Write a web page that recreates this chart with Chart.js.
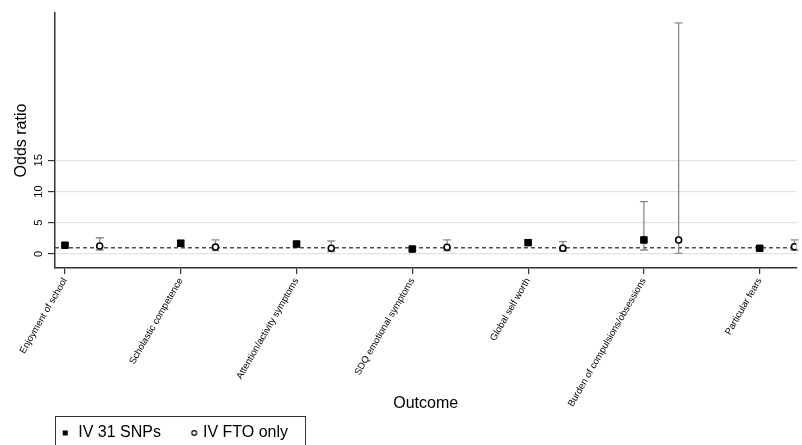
<!DOCTYPE html>
<html>
<head>
<meta charset="utf-8">
<script src="https://cdn.jsdelivr.net/npm/chart.js@4.4.0/dist/chart.umd.min.js"></script>
<style>
html,body{margin:0;padding:0;background:#fff;}
#wrap{width:802px;height:445px;position:relative;}
</style>
</head>
<body>
<div id="wrap"><canvas id="c"></canvas></div>
<script>
// ---- data ----
const categories = [
  'Enjoyment of school',
  'Scholastic competence',
  'Attention/activity symptoms',
  'SDQ emotional symptoms',
  'Global self worth',
  'Burden of compulsions/obsessions',
  'Particular fears'
];
const seriesNames = ['IV 31 SNPs', 'IV FTO only'];

const snpOR    = [1.40, 1.71, 1.60, 0.80, 1.82, 2.25, 0.91];
const snpLower = [1.15, 1.30, 1.25, 0.55, 1.45, 0.64, 0.68];
const snpUpper = [1.70, 2.20, 1.98, 1.10, 2.30, 8.40, 1.20];

const ftoOR    = [1.28, 1.12, 0.91, 1.07, 0.91, 2.25, 1.17];
const ftoLower = [0.64, 0.55, 0.40, 0.50, 0.42, 0.10, 0.60];
const ftoUpper = [2.60, 2.25, 2.08, 2.25, 1.98, 37.0, 2.25];

const yTickValues = [0, 5, 10, 15];
const referenceOR = 1;

// ---- layout constants ----
const FTO_OFFSET = 0.3;
const X_MIN = 0.914, X_MAX = 7.317;
const Y_MIN = -2.24, Y_MAX = 38.58;

Chart.defaults.font.family = '"Liberation Sans", Arial, Helvetica, sans-serif';
Chart.defaults.color = '#000';

function makeMarker(kind, offset) {
  const w = 2 * Math.ceil(Math.abs(offset) + 5), h = 10;
  const c = document.createElement('canvas');
  c.width = w; c.height = h;
  const g = c.getContext('2d');
  const cx = w / 2 + offset, cy = h / 2;
  if (kind === 'square') {
    g.fillStyle = '#000';
    g.fillRect(cx - 2.5, cy - 2.5, 5, 5);
  } else {
    g.beginPath();
    g.arc(cx, cy, 2.4, 0, Math.PI * 2);
    g.fillStyle = '#fff'; g.fill();
    g.lineWidth = 1.2; g.strokeStyle = '#000'; g.stroke();
  }
  return c;
}
const legendMarkers = [makeMarker('square', 7.4), makeMarker('circle', 11.7)];

const snpData = categories.map((c, i) => ({x: i + 1, y: snpOR[i]}));
const ftoData = categories.map((c, i) => ({x: i + 1 + FTO_OFFSET, y: ftoOR[i]}));

const errorBarPlugin = {
  id: 'errorBars',
  beforeDatasetsDraw(chart) {
    const {ctx, chartArea, scales: {x, y}} = chart;
    ctx.save();
    const yr = y.getPixelForValue(referenceOR);
    ctx.setLineDash([4, 3]);
    ctx.strokeStyle = '#4d4d4d';
    ctx.lineWidth = 1.3;
    ctx.beginPath();
    ctx.moveTo(chartArea.left, yr);
    ctx.lineTo(chartArea.right, yr);
    ctx.stroke();
    ctx.setLineDash([]);
    ctx.strokeStyle = '#8a8a8a';
    ctx.lineWidth = 1.3;
    chart.data.datasets.forEach(ds => {
      ds.data.forEach((pt, i) => {
        const px = x.getPixelForValue(pt.x);
        const lo = y.getPixelForValue(ds.ciLower[i]);
        const hi = y.getPixelForValue(ds.ciUpper[i]);
        ctx.beginPath();
        ctx.moveTo(px, lo); ctx.lineTo(px, hi);
        ctx.moveTo(px - 4, lo); ctx.lineTo(px + 4, lo);
        ctx.moveTo(px - 4, hi); ctx.lineTo(px + 4, hi);
        ctx.stroke();
      });
    });
    ctx.restore();
  }
};

const legendPlacePlugin = {
  id: 'legendPlace',
  afterLayout(chart) {
    if (chart.legend) chart.legend.left = chart.chartArea.left - 18.7;
  },
  afterDraw(chart) {
    const lg = chart.legend;
    if (!lg) return;
    const ctx = chart.ctx;
    ctx.save();
    ctx.strokeStyle = '#333';
    ctx.lineWidth = 1;
    ctx.strokeRect(chart.chartArea.left + 0.5, lg.top + 0.5, 250, lg.bottom - lg.top);
    ctx.restore();
  }
};

new Chart(document.getElementById('c'), {
  type: 'scatter',
  data: {
    datasets: [
      {
        label: seriesNames[0],
        data: snpData,
        ciLower: snpLower,
        ciUpper: snpUpper,
        pointStyle: 'rect',
        pointRadius: 4.6,
        pointHoverRadius: 4.6,
        backgroundColor: '#000',
        borderColor: '#000',
        borderWidth: 1
      },
      {
        label: seriesNames[1],
        data: ftoData,
        ciLower: ftoLower,
        ciUpper: ftoUpper,
        pointStyle: 'circle',
        pointRadius: 3,
        pointHoverRadius: 3,
        backgroundColor: '#fff',
        borderColor: '#000',
        borderWidth: 1.6
      }
    ]
  },
  options: {
    responsive: true,
    maintainAspectRatio: false,
    animation: false,
    layout: {padding: {top: 13, right: 0, left: 0, bottom: -6}},
    plugins: {
      tooltip: {enabled: false},
      legend: {
        position: 'bottom',
        align: 'start',
        labels: {
          usePointStyle: true,
          pointStyleWidth: 25,
          padding: 9,
          color: '#000',
          font: {size: 16},
          generateLabels(chart) {
            const items = Chart.defaults.plugins.legend.labels.generateLabels(chart);
            items.forEach((it, i) => { it.pointStyle = legendMarkers[i]; });
            return items;
          }
        }
      }
    },
    scales: {
      x: {
        type: 'linear',
        min: X_MIN,
        max: X_MAX,
        afterBuildTicks(scale) {
          scale.ticks = categories.map((c, i) => ({value: i + 1}));
        },
        afterFit(scale) { scale.height = 148; },
        ticks: {
          autoSkip: false,
          minRotation: 60,
          maxRotation: 60,
          padding: 2,
          color: '#000',
          font: {size: 9.5},
          callback(v) { return categories[Math.round(v) - 1]; }
        },
        grid: {
          drawOnChartArea: false,
          drawTicks: true,
          tickLength: 6,
          tickColor: '#333',
          lineWidth: 1.2
        },
        border: {display: true, color: '#333', width: 1.5},
        title: {
          display: true,
          text: 'Outcome',
          color: '#000',
          font: {size: 16, lineHeight: 1},
          padding: {top: 0, bottom: 4}
        }
      },
      y: {
        type: 'linear',
        min: Y_MIN,
        max: Y_MAX,
        afterBuildTicks(scale) {
          scale.ticks = yTickValues.map(v => ({value: v}));
        },
        afterFit(scale) { scale.width = 55; },
        ticks: {
          minRotation: 90,
          maxRotation: 90,
          crossAlign: 'center',
          padding: 3,
          color: '#000',
          font: {size: 11},
          callback(v) { return String(v); }
        },
        grid: {
          color: '#e3e3e3',
          lineWidth: 1.2,
          tickLength: 7,
          tickColor: '#333'
        },
        border: {display: true, color: '#333', width: 1.5},
        title: {
          display: true,
          text: 'Odds ratio',
          color: '#000',
          font: {size: 16, lineHeight: 1},
          padding: {top: 13.5, bottom: 0}
        }
      }
    }
  },
  plugins: [errorBarPlugin, legendPlacePlugin]
});
</script>
</body>
</html>
